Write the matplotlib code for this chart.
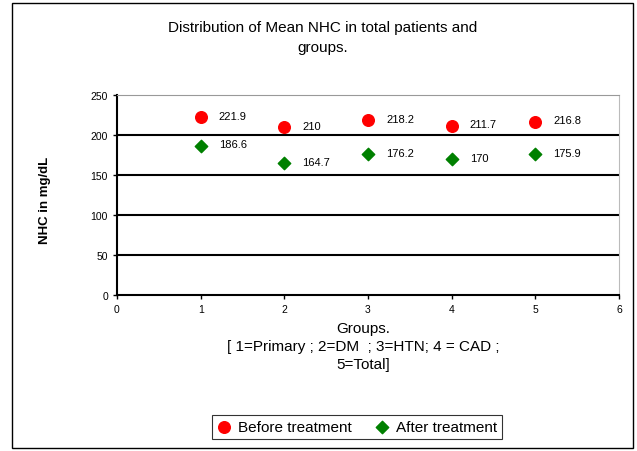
import matplotlib.pyplot as plt
from matplotlib.patches import Rectangle

plt.rcParams['font.family'] = ['Liberation Sans', 'DejaVu Sans']

# group positions on the x axis (1=Primary ... 5=Total)
groups = [1, 2, 3, 4, 5]
before_treatment = [221.9, 210, 218.2, 211.7, 216.8]
after_treatment = [186.6, 164.7, 176.2, 170, 175.9]
x_ticks = [0, 1, 2, 3, 4, 5, 6]
y_ticks = [0, 50, 100, 150, 200, 250]

title = "Distribution of Mean NHC in total patients and\ngroups."
x_label = "Groups.\n[ 1=Primary ; 2=DM  ; 3=HTN; 4 = CAD ;\n5=Total]"
y_label = "NHC in mg/dL"


def fmt(v):
    return f"{v:g}"


fig = plt.figure(figsize=(6.37, 4.52), dpi=100)
fig.patch.set_facecolor("white")

# outer chart border
fig.patches.append(Rectangle((12 / 637, 3 / 452), 621 / 637, 445 / 452,
                             transform=fig.transFigure, fill=False,
                             edgecolor="black", linewidth=1.0))

ax = fig.add_axes([117 / 637, 1 - 296 / 452, 502 / 637, 200 / 452])

ax.scatter(groups, before_treatment, s=70, marker="o", color="#ff0000",
           zorder=3, label="Before treatment")
ax.scatter(groups, after_treatment, s=40, marker="D", color="#008000",
           zorder=3, label="After treatment")

for x, v in zip(groups, before_treatment):
    ax.annotate(fmt(v), (x, v), xytext=(13, 1), textcoords="offset points",
                fontsize=8, va="center", ha="left")
for x, v in zip(groups, after_treatment):
    ax.annotate(fmt(v), (x, v), xytext=(13, 1), textcoords="offset points",
                fontsize=8, va="center", ha="left")

ax.set_xlim(0, 6)
ax.set_ylim(0, 250)
ax.set_xticks(x_ticks)
ax.set_yticks(y_ticks)
ax.tick_params(labelsize=7.5, length=3, width=1, direction="out")

for y in y_ticks[1:-1]:
    ax.axhline(y, color="black", linewidth=1.5, zorder=1)

ax.spines["left"].set_linewidth(1.5)
ax.spines["bottom"].set_linewidth(1.5)
ax.spines["right"].set_color("#bbbbbb")
ax.spines["top"].set_color("#999999")
ax.spines["top"].set_linewidth(0.8)

fig.text(323 / 637, 1 - 38 / 452, title, ha="center", va="center",
         fontsize=11, linespacing=1.5)
fig.text(363 / 637, 1 - 347 / 452, x_label, ha="center", va="center",
         fontsize=11, linespacing=1.35)
fig.text(45 / 637, 1 - 200 / 452, y_label, ha="center", va="center",
         rotation=90, fontsize=9.5, fontweight="bold",
         family=["Liberation Sans Narrow", "Liberation Sans"])

leg = fig.legend(loc="center", bbox_to_anchor=(357 / 637, 1 - 428 / 452),
                 ncol=2, fontsize=11, frameon=True, fancybox=False,
                 edgecolor="black", handletextpad=0.4, columnspacing=1.5,
                 borderpad=0.3, handlelength=1.0)
leg.get_frame().set_linewidth(0.8)

fig.savefig("out.png", dpi=100)
